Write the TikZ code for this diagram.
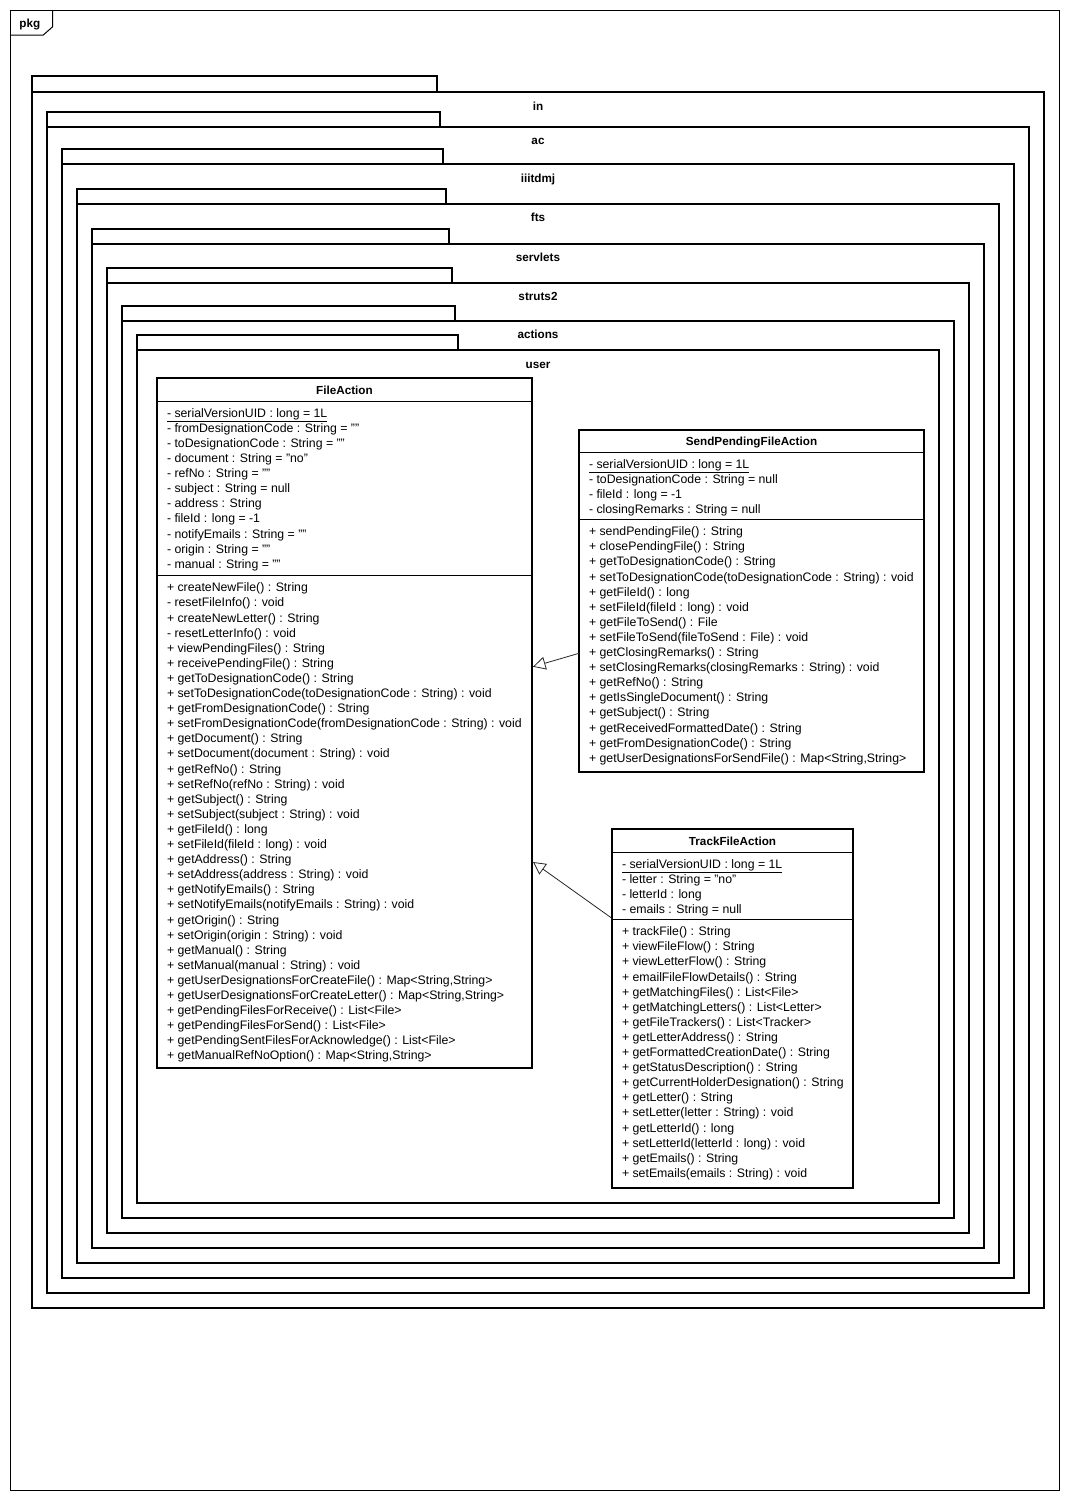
\documentclass[tikz,border=0pt]{standalone}
\usepackage{fontspec}
\setmainfont{Liberation Sans}
\usetikzlibrary{positioning,arrows.meta}

\begin{document}
\begin{tikzpicture}[x=1pt, y=1pt,
frame/.style={draw, line width=1pt, anchor=north west},
pkgbody/.style={draw, line width=2pt, anchor=north west},
pkgtab/.style={draw, line width=2pt},
pkgname/.style={font=\fontsize{11.7}{14}\selectfont\bfseries, text height=8.4pt, text depth=0pt},
classbox/.style={draw, line width=2pt, anchor=north west},
classname/.style={draw, line width=1pt, font=\fontsize{11.7}{14}\selectfont\bfseries, text height=8.4pt, text depth=0pt},
classpart/.style={draw, line width=1pt},
members/.style={align=left, font=\fontsize{12.3}{15.1}\selectfont},
inherits/.style={draw=black!85, line width=0.8pt, -{Triangle[open, length=12.5pt, width=13pt]}}]
\tikzstyle{every node}=[inner sep=0pt, outer sep=0pt]
\useasboundingbox (0,0) rectangle (1070,-1500);

% outer frame
\node[frame, minimum width=1049.5pt, minimum height=1480pt] (pkgframe) at (10,-10) {};
\draw[line width=1pt] ([yshift=-25pt]pkgframe.north west) -- ++(33.3,0) -- ++(9.4,8.3) -- ++(0,16.7);
\node[pkgname] (pkgframename) [below right=9pt and 9.5pt of pkgframe.north west] {pkg};

% nested packages
\node[pkgbody, minimum width=1012pt, minimum height=1215.7pt] (pkgin) at (32,-92) {};
\node[pkgtab, minimum width=405pt, minimum height=16pt] (pkgintab) [above right=0pt of pkgin.north west] {};
\node[pkgname] (pkginname) [below=9.6pt of pkgin.north] {in};

\node[pkgbody, minimum width=982pt, minimum height=1166pt] (pkgac) at (47,-126.7) {};
\node[pkgtab, minimum width=393pt, minimum height=15pt] (pkgactab) [above right=0pt of pkgac.north west] {};
\node[pkgname] (pkgacname) [below=9.6pt of pkgac.north] {ac};

\node[pkgbody, minimum width=952pt, minimum height=1113.7pt] (pkgiiitdmj) at (62,-164) {};
\node[pkgtab, minimum width=381pt, minimum height=15pt] (pkgiiitdmjtab) [above right=0pt of pkgiiitdmj.north west] {};
\node[pkgname] (pkgiiitdmjname) [below=9.6pt of pkgiiitdmj.north] {iiitdmj};

\node[pkgbody, minimum width=922pt, minimum height=1059pt] (pkgfts) at (77,-203.7) {};
\node[pkgtab, minimum width=369pt, minimum height=15pt] (pkgftstab) [above right=0pt of pkgfts.north west] {};
\node[pkgname] (pkgftsname) [below=9.6pt of pkgfts.north] {fts};

\node[pkgbody, minimum width=892pt, minimum height=1004pt] (pkgservlets) at (92,-243.7) {};
\node[pkgtab, minimum width=357pt, minimum height=15pt] (pkgservletstab) [above right=0pt of pkgservlets.north west] {};
\node[pkgname] (pkgservletsname) [below=9.6pt of pkgservlets.north] {servlets};

\node[pkgbody, minimum width=862pt, minimum height=950pt] (pkgstruts) at (107,-282.7) {};
\node[pkgtab, minimum width=345pt, minimum height=15pt] (pkgstrutstab) [above right=0pt of pkgstruts.north west] {};
\node[pkgname] (pkgstrutsname) [below=9.6pt of pkgstruts.north] {struts2};

\node[pkgbody, minimum width=832pt, minimum height=897pt] (pkgactions) at (122,-320.7) {};
\node[pkgtab, minimum width=333pt, minimum height=15pt] (pkgactionstab) [above right=0pt of pkgactions.north west] {};
\node[pkgname] (pkgactionsname) [below=9.6pt of pkgactions.north] {actions};

\node[pkgbody, minimum width=802pt, minimum height=852.7pt] (pkguser) at (137,-350) {};
\node[pkgtab, minimum width=321pt, minimum height=15.3pt] (pkgusertab) [above right=0pt of pkguser.north west] {};
\node[pkgname] (pkgusername) [below=9.6pt of pkguser.north] {user};

% FileAction
\node[classbox, minimum width=375pt, minimum height=690pt] (fileaction) at (157,-378.3) {};
\node[classname, minimum width=375pt, minimum height=23.5pt] (fileactionname) [below=0pt of fileaction.north] {FileAction};
\node[classpart, minimum width=375pt, minimum height=173.6pt] (fileactionattr) [below=0pt of fileactionname] {};
\node[classpart, minimum width=375pt, minimum height=493pt] (fileactionops) [below=0pt of fileactionattr] {};
\node[members] (fileactionattrtext) [below right=6.5pt and 10pt of fileactionattr.north west] {\underline{- serialVersionUID : long = 1L}\\
- fromDesignationCode : String = ""\\
- toDesignationCode : String = ""\\
- document : String = "no"\\
- refNo : String = ""\\
- subject : String = null\\
- address : String\\
- fileId : long = -1\\
- notifyEmails : String = ""\\
- origin : String = ""\\
- manual : String = ""};
\node[members] (fileactionopstext) [below right=7.5pt and 10pt of fileactionops.north west] {+ createNewFile() : String\\
- resetFileInfo() : void\\
+ createNewLetter() : String\\
- resetLetterInfo() : void\\
+ viewPendingFiles() : String\\
+ receivePendingFile() : String\\
+ getToDesignationCode() : String\\
+ setToDesignationCode(toDesignationCode : String) : void\\
+ getFromDesignationCode() : String\\
+ setFromDesignationCode(fromDesignationCode : String) : void\\
+ getDocument() : String\\
+ setDocument(document : String) : void\\
+ getRefNo() : String\\
+ setRefNo(refNo : String) : void\\
+ getSubject() : String\\
+ setSubject(subject : String) : void\\
+ getFileId() : long\\
+ setFileId(fileId : long) : void\\
+ getAddress() : String\\
+ setAddress(address : String) : void\\
+ getNotifyEmails() : String\\
+ setNotifyEmails(notifyEmails : String) : void\\
+ getOrigin() : String\\
+ setOrigin(origin : String) : void\\
+ getManual() : String\\
+ setManual(manual : String) : void\\
+ getUserDesignationsForCreateFile() : Map<String,String>\\
+ getUserDesignationsForCreateLetter() : Map<String,String>\\
+ getPendingFilesForReceive() : List<File>\\
+ getPendingFilesForSend() : List<File>\\
+ getPendingSentFilesForAcknowledge() : List<File>\\
+ getManualRefNoOption() : Map<String,String>};

% SendPendingFileAction
\node[classbox, minimum width=345pt, minimum height=342.3pt] (sendpending) at (579,-430) {};
\node[classname, minimum width=345pt, minimum height=22.7pt] (sendpendingname) [below=0pt of sendpending.north] {SendPendingFileAction};
\node[classpart, minimum width=345pt, minimum height=66.6pt] (sendpendingattr) [below=0pt of sendpendingname] {};
\node[classpart, minimum width=345pt, minimum height=253pt] (sendpendingops) [below=0pt of sendpendingattr] {};
\node[members] (sendpendingattrtext) [below right=6.5pt and 10pt of sendpendingattr.north west] {\underline{- serialVersionUID : long = 1L}\\
- toDesignationCode : String = null\\
- fileId : long = -1\\
- closingRemarks : String = null};
\node[members] (sendpendingopstext) [below right=7.5pt and 10pt of sendpendingops.north west] {+ sendPendingFile() : String\\
+ closePendingFile() : String\\
+ getToDesignationCode() : String\\
+ setToDesignationCode(toDesignationCode : String) : void\\
+ getFileId() : long\\
+ setFileId(fileId : long) : void\\
+ getFileToSend() : File\\
+ setFileToSend(fileToSend : File) : void\\
+ getClosingRemarks() : String\\
+ setClosingRemarks(closingRemarks : String) : void\\
+ getRefNo() : String\\
+ getIsSingleDocument() : String\\
+ getSubject() : String\\
+ getReceivedFormattedDate() : String\\
+ getFromDesignationCode() : String\\
+ getUserDesignationsForSendFile() : Map<String,String>};

% TrackFileAction
\node[classbox, minimum width=241pt, minimum height=359pt] (trackfile) at (612,-829.3) {};
\node[classname, minimum width=241pt, minimum height=23.4pt] (trackfilename) [below=0pt of trackfile.north] {TrackFileAction};
\node[classpart, minimum width=241pt, minimum height=66.6pt] (trackfileattr) [below=0pt of trackfilename] {};
\node[classpart, minimum width=241pt, minimum height=269pt] (trackfileops) [below=0pt of trackfileattr] {};
\node[members] (trackfileattrtext) [below right=6.5pt and 10pt of trackfileattr.north west] {\underline{- serialVersionUID : long = 1L}\\
- letter : String = "no"\\
- letterId : long\\
- emails : String = null};
\node[members] (trackfileopstext) [below right=7.5pt and 10pt of trackfileops.north west] {+ trackFile() : String\\
+ viewFileFlow() : String\\
+ viewLetterFlow() : String\\
+ emailFileFlowDetails() : String\\
+ getMatchingFiles() : List<File>\\
+ getMatchingLetters() : List<Letter>\\
+ getFileTrackers() : List<Tracker>\\
+ getLetterAddress() : String\\
+ getFormattedCreationDate() : String\\
+ getStatusDescription() : String\\
+ getCurrentHolderDesignation() : String\\
+ getLetter() : String\\
+ setLetter(letter : String) : void\\
+ getLetterId() : long\\
+ setLetterId(letterId : long) : void\\
+ getEmails() : String\\
+ setEmails(emails : String) : void};

% generalizations
\draw[inherits] ([yshift=-134pt]sendpendingops.north west) -- ([xshift=1pt, yshift=-91.3pt]fileactionops.north east);
\draw[inherits] ([yshift=1pt]trackfileattr.south west) -- ([xshift=1pt, yshift=-286.6pt]fileactionops.north east);
\end{tikzpicture}
\end{document}
